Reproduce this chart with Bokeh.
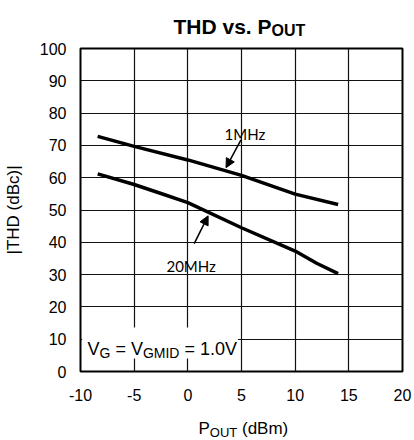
import math
from bokeh.plotting import figure
from bokeh.layouts import column
from bokeh.models import Label, Arrow, NormalHead, FixedTicker, BoxAnnotation, Range1d
from bokeh.embed import file_html
from bokeh.resources import INLINE

# ---------------- data ----------------
pout_1mhz = [-8.4, -5.0, 0.0, 5.0, 10.0, 14.0]
thd_1mhz = [72.8, 69.7, 65.5, 60.7, 54.9, 51.7]
pout_20mhz = [-8.4, -5.0, -2.5, 0.0, 5.0, 10.0, 12.0, 14.0]
thd_20mhz = [61.2, 57.9, 55.1, 52.3, 44.5, 37.3, 33.5, 30.3]
x_ticks = [-10, -5, 0, 5, 10, 15, 20]
y_ticks = [0, 10, 20, 30, 40, 50, 60, 70, 80, 90, 100]

FONT = "Liberation Sans"
W = 414
BL, BR = 79, 12          # left / right borders shared by all stacked figures
H1, H2, H3 = 40, 372, 28  # title strip, chart, x-label strip
FRAME_L = BL              # page x of the chart frame's left edge
FRAME_B = H1 + 8 + 323    # page y of the chart frame's bottom edge

# approximate Arial / Liberation Sans advance widths (em)
W_REG = {'V': .667, 'G': .778, 'M': .833, 'I': .278, 'D': .722, ' ': .278, '=': .584,
         '1': .556, '.': .278, '0': .556, 'P': .667, 'O': .778, 'U': .722, 'T': .611,
         '(': .333, ')': .333, 'd': .556, 'B': .667, 'm': .833}
W_BOLD = {'T': .611, 'H': .722, 'D': .722, ' ': .278, 'v': .556, 's': .556, '.': .278,
          'P': .667, 'O': .778, 'U': .722}


def tw(text, size, bold=False):
    tab = W_BOLD if bold else W_REG
    return sum(tab.get(c, .6) for c in text) * size


def pieces(fig, items, x0, base, fig_left, fig_bottom, bold=False):
    """Draw text runs side by side. x0/base are page pixels; fig_left/fig_bottom
    are the page pixels of the figure frame's left and bottom edges."""
    x = x0
    for text, size, dy in items:
        lead = len(text) - len(text.lstrip(' '))
        space = (W_BOLD if bold else W_REG)[' '] * size
        fig.add_layout(Label(x=x + lead * space - fig_left, y=fig_bottom - (base + dy),
                             x_units="screen", y_units="screen",
                             text=text.strip(' '), text_font=FONT, text_font_size=f"{size}px",
                             text_font_style="bold" if bold else "normal",
                             text_align="left", text_baseline="alphabetic",
                             text_color="black"))
        x += tw(text, size, bold)


def blank_fig(h):
    f = figure(width=W, height=h, output_backend="svg", toolbar_location=None,
               x_range=Range1d(0, 1), y_range=Range1d(0, 1),
               min_border_left=BL, min_border_right=BR,
               min_border_top=0, min_border_bottom=0, x_axis_type=None, y_axis_type=None)
    f.outline_line_color = None
    f.grid.visible = False
    f.background_fill_color = "white"
    f.border_fill_color = "white"
    return f


# ---------- title strip ----------
title_fig = blank_fig(H1)
pieces(title_fig, [("THD vs. P", 21, 0), ("OUT", 16, 4)], 172, 26,
       fig_left=BL, fig_bottom=H1, bold=True)

# ---------- main chart ----------
p = figure(width=W, height=H2, output_backend="svg", toolbar_location=None,
           x_range=Range1d(-10, 20), y_range=Range1d(0, 100),
           min_border_left=BL, min_border_right=BR, min_border_top=8,
           min_border_bottom=H2 - 8 - 323)
p.background_fill_color = "white"
p.border_fill_color = "white"
p.outline_line_color = "black"
p.outline_line_width = 2

p.xaxis.ticker = FixedTicker(ticks=x_ticks)
p.yaxis.ticker = FixedTicker(ticks=y_ticks)
p.xaxis.major_label_overrides = {t: str(t) for t in x_ticks}
p.xgrid.ticker = FixedTicker(ticks=x_ticks)
p.ygrid.ticker = FixedTicker(ticks=y_ticks)
for g in (p.xgrid, p.ygrid):
    g.grid_line_color = "#111111"
    g.grid_line_width = 1.2
    g.grid_line_alpha = 1.0

for ax in (p.xaxis, p.yaxis):
    ax.axis_line_color = None
    ax.major_tick_line_color = None
    ax.minor_tick_line_color = None
    ax.major_tick_out = 0
    ax.major_tick_in = 0
    ax.major_label_text_font = FONT
    ax.major_label_text_font_size = "16px"
    ax.major_label_text_color = "black"
p.xaxis.major_label_standoff = 17
p.yaxis.major_label_standoff = 14
p.yaxis.axis_label = "|THD (dBc)|"
p.yaxis.axis_label_text_font = FONT
p.yaxis.axis_label_text_font_size = "17px"
p.yaxis.axis_label_text_font_style = "normal"
p.yaxis.axis_label_text_color = "black"
p.yaxis.axis_label_standoff = 14

# curves
p.line(pout_1mhz, thd_1mhz, line_color="black", line_width=3.5)
p.line(pout_20mhz, thd_20mhz, line_color="black", line_width=3.5)

# arrows + labels
p.add_layout(Arrow(end=NormalHead(size=9, fill_color="black", line_color="black"),
                   x_start=4.95, y_start=71.7, x_end=3.56, y_end=63.1,
                   line_color="black", line_width=1.5))
p.add_layout(Arrow(end=NormalHead(size=9, fill_color="black", line_color="black"),
                   x_start=0.59, y_start=39.6, x_end=1.89, y_end=48.2,
                   line_color="black", line_width=1.5))
p.add_layout(Label(x=5.32, y=73.6, text="1MHz", text_font="Lato", text_font_size="15px",
                   text_align="center", text_baseline="alphabetic", text_color="black"))
p.add_layout(Label(x=0.31, y=32.8, text="20MHz", text_font="Lato", text_font_size="15px",
                   text_align="center", text_baseline="alphabetic", text_color="black"))

# condition label with white background
p.add_layout(BoxAnnotation(left=-9.85, right=4.67, bottom=4.0, top=13.6,
                           fill_color="white", fill_alpha=1.0, line_color=None))
pieces(p, [("V", 18, 0), ("G", 14, 3.5), (" = V", 18, 0), ("GMID", 14, 3.5), (" = 1.0V", 18, 0)],
       86, 348.5, fig_left=FRAME_L, fig_bottom=FRAME_B)

# ---------- x-axis label strip ----------
xlab_fig = blank_fig(H3)
pieces(xlab_fig, [("P", 17, 0), ("OUT", 13, 3.5), (" (dBm)", 17, 0)], 197, 428,
       fig_left=BL, fig_bottom=H1 + H2 + H3)

layout = column(title_fig, p, xlab_fig, spacing=0)

open("out.html", "w").write(file_html(layout, INLINE))
